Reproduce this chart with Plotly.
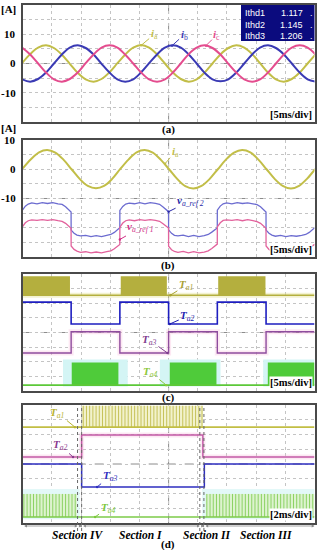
import plotly.graph_objects as go

# ======================= DATA =======================
# (a) three-phase currents [A]; time in ms (5 ms/div)
t_a = [-0.07, 1.28, 2.64, 4.00, 5.36, 6.72, 8.07, 9.43, 10.79, 12.15, 13.51, 14.87,
       16.23, 17.58, 18.94, 20.30, 21.66, 23.02, 24.37, 25.73, 27.09, 28.45, 29.81,
       31.17, 32.52, 33.88, 35.24, 36.60, 37.96, 39.32, 40.67, 42.03, 43.39, 44.75,
       46.11, 47.47, 48.82, 50.18]
ia_a = [0.2, 3.2, 5.4, 6.2, 5.3, 3.0, -0.1, -3.2, -5.4, -6.2, -5.3, -3.0, 0.1, 3.1, 5.4,
        6.3, 5.4, 3.1, 0.0, -3.1, -5.3, -6.2, -5.4, -3.1, 0.0, 3.1, 5.3, 6.2, 5.4, 3.2,
        0.1, -3.1, -5.4, -6.2, -5.3, -3.1, 0.0, 3.1]
ib_a = [-5.4, -6.2, -5.3, -3.1, 0.0, 3.1, 5.4, 6.2, 5.3, 3.1, -0.1, -3.1, -5.4, -6.2,
        -5.4, -3.0, 0.1, 3.1, 5.4, 6.2, 5.4, 3.1, 0.0, -3.2, -5.4, -6.1, -5.4, -3.1, 0.0,
        3.1, 5.4, 6.2, 5.3, 3.1, 0.0, -3.1, -5.4, -6.2]
ic_a = [5.4, 3.1, 0.0, -3.1, -5.4, -6.2, -5.3, -3.1, 0.1, 3.1, 5.4, 6.2, 5.4, 3.0, 0.0,
        -3.1, -5.4, -6.2, -5.4, -3.1, 0.0, 3.2, 5.4, 6.2, 5.3, 3.1, -0.1, -3.1, -5.4,
        -6.2, -5.4, -3.1, 0.0, 3.1, 5.4, 6.2, 5.4, 3.1]
thd_names = ["Ithd1", "Ithd2", "Ithd3"]
thd_values = ["1.117", "1.145", "1.206"]

# (b) phase current and the two reference voltages
t_b = [0.02, 1.41, 2.80, 4.20, 5.59, 6.98, 8.37, 9.76, 11.16, 12.55, 13.94, 15.33,
       16.72, 18.12, 19.51, 20.90, 22.29, 23.68, 25.08, 26.47, 27.86, 29.25, 30.64,
       32.04, 33.43, 34.82, 36.21, 37.60, 39.00, 40.39, 41.78, 43.17, 44.56, 45.96,
       47.35, 48.74, 50.13]
ia_b = [0.3, 3.4, 5.8, 6.6, 5.7, 3.3, 0.0, -3.3, -5.7, -6.5, -5.7, -3.3, 0.1, 3.3, 5.8,
        6.6, 5.7, 3.2, 0.0, -3.3, -5.8, -6.6, -5.7, -3.3, 0.0, 3.3, 5.7, 6.6, 5.8, 3.3,
        0.0, -3.3, -5.7, -6.6, -5.7, -3.2, 0.1]
t_vref = [-0.05, 0.45, 0.95, 1.55, 2.45, 3.35, 4.25, 5.15, 6.05, 6.75, 7.35, 7.95, 8.29,
          8.30, 8.80, 9.30, 9.90, 10.80, 11.70, 12.60, 13.50, 14.40, 15.10, 15.70, 16.30, 16.64,
          16.65, 17.15, 17.65, 18.25, 19.15, 20.05, 20.95, 21.85, 22.75, 23.45, 24.05, 24.65, 24.99,
          25.00, 25.50, 26.00, 26.60, 27.50, 28.40, 29.30, 30.20, 31.10, 31.80, 32.40, 33.00, 33.34,
          33.35, 33.85, 34.35, 34.95, 35.85, 36.75, 37.65, 38.55, 39.45, 40.15, 40.75, 41.35, 41.69,
          41.70, 42.20, 42.70, 43.30, 44.20, 45.10, 46.00, 46.90, 47.80, 48.50, 49.10, 49.70, 50.04]
vref2 = [-14.0, -12.6, -11.9, -11.5, -11.8, -11.4, -11.7, -11.4, -11.8, -12.0, -12.8, -14.0, -14.6,
         -20.8, -21.9, -22.5, -22.8, -22.6, -23.0, -22.7, -23.0, -22.6, -22.3, -21.6, -20.4, -20.0,
         -14.1, -12.7, -11.9, -11.6, -11.8, -11.4, -11.8, -11.4, -11.7, -12.0, -12.9, -14.0, -14.5,
         -20.7, -21.9, -22.6, -22.8, -22.5, -23.0, -22.6, -23.0, -22.7, -22.3, -21.5, -20.4, -20.1,
         -14.0, -12.6, -11.8, -11.5, -11.8, -11.4, -11.7, -11.5, -11.8, -12.1, -12.8, -14.0, -14.6,
         -20.8, -21.9, -22.5, -22.9, -22.6, -23.0, -22.7, -22.9, -22.6, -22.3, -21.6, -20.5, -20.0]
vref1 = [-19.7, -18.3, -17.6, -17.3, -17.5, -17.2, -17.5, -17.2, -17.6, -17.8, -18.5, -19.6, -20.2,
         -26.2, -27.4, -28.0, -28.4, -28.2, -28.6, -28.3, -28.6, -28.2, -27.9, -27.2, -26.1, -25.7,
         -19.8, -18.4, -17.6, -17.3, -17.6, -17.2, -17.5, -17.2, -17.5, -17.8, -18.6, -19.6, -20.1,
         -26.3, -27.5, -28.1, -28.4, -28.1, -28.6, -28.2, -28.6, -28.3, -27.9, -27.1, -26.0, -25.6,
         -19.7, -18.3, -17.5, -17.3, -17.5, -17.2, -17.6, -17.2, -17.6, -17.9, -18.5, -19.7, -20.2,
         -26.2, -27.4, -28.0, -28.4, -28.2, -28.5, -28.3, -28.6, -28.2, -27.8, -27.2, -26.1, -25.7]

# (c) gate signals, 5 ms/div (state 1 = high)
c_switch_t = [0, 8.3, 16.65, 25.0, 33.35, 41.7, 50]
ta2_c_state = [1, 0, 1, 0, 1, 0, 0]
ta3_c_state = [0, 1, 0, 1, 0, 1, 1]
ta1_c_bursts = [[0.0, 8.1], [16.8, 24.7], [33.5, 41.6]]
ta4_c_bursts = [[8.4, 16.4], [25.2, 33.2], [42.0, 50.0]]
ta4_c_glow = [[6.9, 18.0], [23.5, 33.9], [41.2, 50.0]]

# (d) zoom, 2 ms/div
ta2_d_t = [0, 4.04, 12.35, 20]
ta2_d_state = [0, 1, 0, 0]
ta3_d_t = [0, 4.04, 12.45, 20]
ta3_d_state = [1, 0, 1, 1]
ta1_d_bursts = [[4.04, 12.35]]
ta1_d_pulses = [4.15, 4.37, 4.59, 4.81, 5.03, 5.25, 5.47, 5.69, 5.91, 6.13, 6.35, 6.57,
                6.79, 7.01, 7.23, 7.45, 7.67, 7.89, 8.11, 8.33, 8.55, 8.77, 8.99, 9.21,
                9.43, 9.65, 9.87, 10.09, 10.31, 10.53, 10.75, 10.97, 11.19, 11.41, 11.63,
                11.85, 12.07, 12.29]
ta4_d_bursts = [[0.0, 3.72], [12.55, 20.0]]
ta4_d_pulses = [0.08, 0.30, 0.52, 0.74, 0.96, 1.18, 1.40, 1.62, 1.84, 2.06, 2.28, 2.50,
                2.72, 2.94, 3.16, 3.38, 3.60,
                12.62, 12.84, 13.06, 13.28, 13.50, 13.72, 13.94, 14.16, 14.38, 14.60,
                14.82, 15.04, 15.26, 15.48, 15.70, 15.92, 16.14, 16.36, 16.58, 16.80,
                17.02, 17.24, 17.46, 17.68, 17.90, 18.12, 18.34, 18.56, 18.78, 19.00,
                19.22, 19.44, 19.66, 19.88]
ta4_d_glow = [[0.0, 3.9], [12.3, 20.0]]
section_marks = [3.76, 4.04, 12.14, 12.42]
section_spans = [[0.0, 3.76], [3.76, 4.04], [4.04, 12.14], [12.14, 12.42], [12.42, 20.0]]
section_names = ["Section IV", "Section I", "Section II", "Section III"]
section_centers = [3.9, 8.09, 12.28, 16.21]

# ======================= STYLE =======================
W, H = 320, 550
SERIF = "Liberation Serif"
SANS = "Liberation Sans"
GRID = "#C4C4C4"
FRAME = "#4A4A4A"
YEL = "#C2BE48"
BLU = "#3A3AB4"
PNK = "#E44C8E"


def PX(x):
    return x / W


def PY(y):
    return 1 - y / H


X_DOM = [PX(22.7), PX(314.5)]
Y_DOMS = [(5, 122), (140, 257), (274, 391), (405, 523)]

# channel offsets / swings (in divisions) for (c) and (d)
TA1_C, TA2_C, TA3_C, TA4_C = (6.55, 1.3), (4.58, 1.5), (2.6, 1.45), (0.4, 1.55)
TA1_D, TA2_D, TA3_D, TA4_D = (6.5, 1.45), (4.47, 1.5), (2.44, 1.56), (0.41, 1.56)


def rect_path(bursts, lo, hi):
    xs, ys = [], []
    for s, e in bursts:
        xs += [s, s, e, e, s, None]
        ys += [lo, hi, hi, lo, lo, None]
    return xs, ys


def vlines(ts, lo, hi):
    xs, ys = [], []
    for t in ts:
        xs += [t, t, None]
        ys += [lo, hi, None]
    return xs, ys


def levels(states, ch):
    return [ch[0] + s * ch[1] for s in states]


fig = go.Figure()


def line(x, y, color, width, ax, shape="linear", dash=None):
    fig.add_trace(go.Scatter(x=x, y=y, mode="lines", xaxis=ax[0], yaxis=ax[1],
                             line=dict(color=color, width=width, shape=shape, dash=dash),
                             hoverinfo="skip", showlegend=False))


def fillpath(x, y, color, ax):
    fig.add_trace(go.Scatter(x=x, y=y, mode="lines", fill="toself", fillcolor=color,
                             xaxis=ax[0], yaxis=ax[1], line=dict(width=0, color=color),
                             hoverinfo="skip", showlegend=False))


A, B, C, D = ("x", "y"), ("x2", "y2"), ("x3", "y3"), ("x4", "y4")

# ---- (a)
line(t_a, ia_a, YEL, 2, A, "spline")
line(t_a, ib_a, BLU, 2, A, "spline")
line(t_a, ic_a, PNK, 2, A, "spline")

# ---- (b)
line(t_b, ia_b, YEL, 2, B, "spline")
line(t_vref, vref2, "#6C6CD0", 1.3, B)
line(t_vref, vref1, "#E2629C", 1.3, B)

# ---- (c)
gx, gy = rect_path(ta4_c_glow, 0.3, 2.15)
fillpath(gx, gy, "#D4F5F5", C)
line([0, 50], [TA1_C[0], TA1_C[0]], "rgba(225,222,140,0.4)", 5, C)
line(c_switch_t, levels(ta3_c_state, TA3_C), "rgba(250,180,215,0.3)", 5, C, "hv")
bx, by = rect_path(ta1_c_bursts, TA1_C[0], TA1_C[0] + TA1_C[1])
fillpath(bx, by, "#B4AF3E", C)
line([0, 50], [TA1_C[0], TA1_C[0]], "#B4AF3E", 1.5, C)
line(c_switch_t, levels(ta2_c_state, TA2_C), "#1E1EC0", 1.6, C, "hv")
line(c_switch_t, levels(ta3_c_state, TA3_C), "#8E4C9E", 1.4, C, "hv")
bx, by = rect_path(ta4_c_bursts, TA4_C[0], TA4_C[0] + TA4_C[1])
fillpath(bx, by, "#4FCB3A", C)
line([0, 50], [TA4_C[0], TA4_C[0]], "#5CC838", 1.6, C)

# ---- (d)
gx, gy = rect_path(ta4_d_glow, 0.25, 2.3)
fillpath(gx, gy, "#E3F8F8", D)
bx, by = rect_path(ta1_d_bursts, TA1_D[0], TA1_D[0] + TA1_D[1])
fillpath(bx, by, "#F2F2CC", D)
vx, vy = vlines(ta1_d_pulses, TA1_D[0], TA1_D[0] + TA1_D[1])
line(vx, vy, "#C6C25A", 1, D)
line([0, 20], [TA1_D[0], TA1_D[0]], "#C2BE44", 1.6, D)
line(ta2_d_t, levels(ta2_d_state, TA2_D), "rgba(245,180,215,0.3)", 5, D, "hv")
line(ta2_d_t, levels(ta2_d_state, TA2_D), "#C25AA6", 1.5, D, "hv")
line(ta3_d_t, levels(ta3_d_state, TA3_D), "#2E2EC0", 1.5, D, "hv")
bx, by = rect_path(ta4_d_bursts, TA4_D[0], TA4_D[0] + TA4_D[1])
fillpath(bx, by, "#DDF3CF", D)
vx, vy = vlines(ta4_d_pulses, TA4_D[0], TA4_D[0] + TA4_D[1])
line(vx, vy, "#8CD264", 1, D)
line([0, 20], [TA4_D[0], TA4_D[0]], "#7CCB48", 1.6, D)

# ======================= AXES =======================
layout = dict(width=W, height=H, margin=dict(l=0, r=0, t=0, b=0),
              paper_bgcolor="white", plot_bgcolor="white", showlegend=False)
xr = [[0, 50, 5], [0, 50, 5], [0, 50, 5], [0, 20, 2]]
yr = [[-20, 20, 5], [-30, 10, 5], [0, 8, 1], [0, 8, 1]]
for i in range(4):
    sx = "" if i == 0 else str(i + 1)
    y0, y1 = Y_DOMS[i]
    layout["xaxis" + sx] = dict(domain=X_DOM, range=xr[i][:2], dtick=xr[i][2], tick0=0,
                                anchor="y" + sx, showgrid=True, gridcolor=GRID,
                                griddash="dot", gridwidth=1, showline=True, mirror=True,
                                linecolor=FRAME, linewidth=1.5, zeroline=False,
                                showticklabels=False, ticks="", fixedrange=True)
    layout["yaxis" + sx] = dict(domain=[PY(y1), PY(y0)], range=yr[i][:2], dtick=yr[i][2],
                                tick0=0, anchor="x" + sx, showgrid=True, gridcolor=GRID,
                                griddash="dot", gridwidth=1, showline=True, mirror=True,
                                linecolor=FRAME, linewidth=1.5, zeroline=False,
                                showticklabels=False, ticks="", fixedrange=True)
fig.update_layout(**layout)

shapes = []
centers = [(25, 0), (25, -10), (25, 4), (10, 4)]
for i, (cx, cy) in enumerate(centers):
    sx = "" if i == 0 else str(i + 1)
    shapes.append(dict(type="line", xref="x" + sx, yref="y" + sx + " domain", x0=cx, x1=cx,
                       y0=0, y1=1, line=dict(color="#8C8C8C", width=1, dash="dash"),
                       layer="below"))
    shapes.append(dict(type="line", xref="x" + sx + " domain", yref="y" + sx, x0=0, x1=1,
                       y0=cy, y1=cy, line=dict(color="#8C8C8C", width=1, dash="dash"),
                       layer="below"))
for m in section_marks:
    shapes.append(dict(type="line", xref="x4", yref="paper", x0=m, x1=m, y0=PY(531),
                       y1=PY(405), line=dict(color="#666", width=1, dash="dot")))
# thd readout box
shapes.append(dict(type="rect", xref="paper", yref="paper", x0=PX(241), x1=PX(314.5),
                   y0=PY(41), y1=PY(5), fillcolor="#0B0B7E", line=dict(width=0),
                   layer="above"))
fig.update_layout(shapes=shapes)

ann = []


def text(x, y, s, size=11, color="black", xanchor="center", yanchor="middle",
         xref="paper", yref="paper", family=SERIF, **kw):
    ann.append(dict(x=x, y=y, text=s, xref=xref, yref=yref, showarrow=False,
                    xanchor=xanchor, yanchor=yanchor,
                    font=dict(family=family, size=size, color=color), **kw))


def label(x, y, s, color, ax, dx, dy):
    ann.append(dict(x=x, y=y, xref=ax[0], yref=ax[1], text=s, showarrow=True,
                    arrowhead=6, arrowsize=0.6, arrowwidth=1, arrowcolor=color,
                    ax=dx, ay=dy, font=dict(family=SERIF, size=11, color=color)))


# y tick labels and units
for v in [10, 0, -10]:
    text(PX(18), v, "<b>%d</b>" % v, xanchor="right", yref="y")
    text(PX(18), v, "<b>%d</b>" % v, xanchor="right", yref="y2")
text(PX(18), PY(9), "<b>[A]</b>", xanchor="right")
text(PX(18), PY(128), "<b>[A]</b>", xanchor="right")

# captions
for cap, yy in [("(a)", 130), ("(b)", 265), ("(c)", 397), ("(d)", 544)]:
    text(PX(168), PY(yy), "<b>%s</b>" % cap, size=11)

# time/div labels
for s, yy in [("[5ms/div]", 121), ("[5ms/div]", 256), ("[5ms/div]", 389), ("[2ms/div]", 521)]:
    text(PX(313), PY(yy), "<b>%s</b>" % s, size=10.5, xanchor="right", yanchor="bottom",
         bgcolor="white", borderpad=0)

# thd readout text
for i, (n, v) in enumerate(zip(thd_names, thd_values)):
    yy = [13, 24.5, 36][i]
    text(PX(243), PY(yy), n, size=9, color="white", xanchor="left", family=SANS)
    text(PX(305), PY(yy), v, size=9, color="white", xanchor="right", family=SANS)
    text(PX(311), PY(yy), ".", size=9, color="white", family=SANS)

# trace labels
label(20.3, 6.2, "<i><b>i</b></i><sub>a</sub>", YEL, A, 13, -11)
label(25.6, 6.1, "<i><b>i</b></i><sub>b</sub>", BLU, A, 12, -11)
label(31.4, 6.1, "<i><b>i</b></i><sub>c</sub>", PNK, A, 11, -11)
label(24.4, 1.9, "<i><b>i</b></i><sub>a</sub>", YEL, B, 10, -12)
label(25.0, -14.5, "<i><b>v</b><sub>a_ref 2</sub></i>", "#2828A8", B, 22, -11)
label(16.65, -24.0, "<i><b>v</b><sub>a_ref 1</sub></i>", "#D02E86", B, 21, -12)
label(25.3, TA1_C[0], "<i><b>T</b><sub>a1</sub></i>", "#A8A232", C, 16, -10)
label(25.2, TA2_C[0], "<i><b>T</b><sub>a2</sub></i>", "#1E1EB0", C, 18, -8)
label(24.8, TA3_C[0], "<i><b>T</b><sub>a3</sub></i>", "#7E3C8E", C, -18, -13)
label(24.6, TA4_C[0], "<i><b>T</b><sub>a4</sub></i>", "#8CC83A", C, -16, -13)
label(3.58, TA1_D[0], "<i><b>T</b><sub>a1</sub></i>", "#B8B432", D, -17, -14)
label(3.45, TA2_D[0], "<i><b>T</b><sub>a2</sub></i>", "#8A3C8E", D, -13, -12)
label(5.1, TA3_D[0], "<i><b>T</b><sub>a3</sub></i>", "#2E2EC0", D, 13, -11)
label(4.96, TA4_D[0], "<i><b>T</b><sub>a4</sub></i>", "#7CC83A", D, 13, -9)

# section dimension arrows and names
for s, e in section_spans:
    ann.append(dict(x=e, y=PY(526), xref="x4", yref="paper", ax=s, ay=0, axref="x4",
                    ayref="pixel", text="", showarrow=True, arrowhead=2, arrowside="end+start",
                    arrowsize=0.7, arrowwidth=0.8, arrowcolor="#8A8A8A"))
for name, cx, sh in zip(section_names, section_centers, [-2, 0, 5, 7]):
    text(cx, PY(535), "<b><i>%s</i></b>" % name, size=11.5, xref="x4", xshift=sh)

fig.update_layout(annotations=ann)
fig.write_html("out.html", config={"displayModeBar": False},
               post_script="document.body.style.margin='0';"
               "document.body.style.overflow='hidden';")
